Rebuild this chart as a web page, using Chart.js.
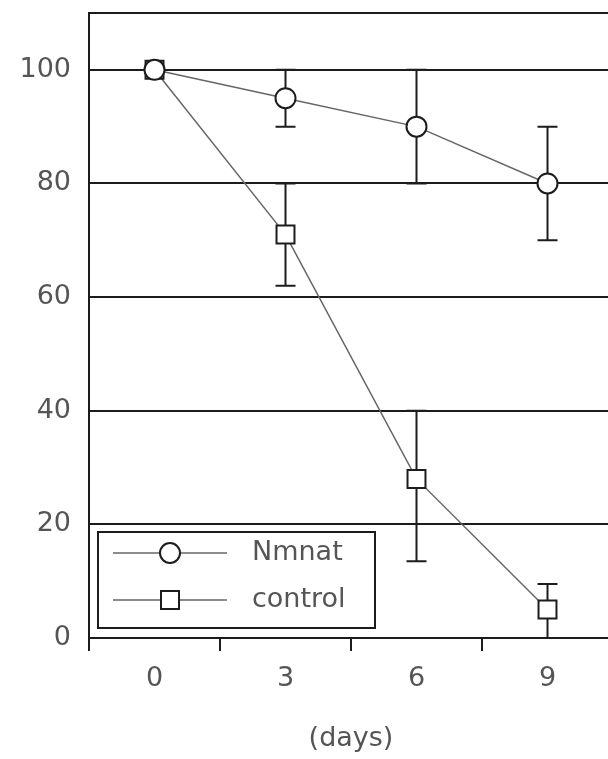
<!DOCTYPE html>
<html>
<head>
<meta charset="utf-8">
<script src="https://cdn.jsdelivr.net/npm/chart.js@4.4.1/dist/chart.umd.min.js"></script>
<style>
  html, body { margin: 0; padding: 0; background: #fff; overflow: hidden; }
  #chart1 { display: block; }
</style>
</head>
<body>
<canvas id="chart1" width="613" height="759"></canvas>
<script>
// survival over time, mean with upper/lower error limits
var days = ["0", "3", "6", "9"];
var nmnat = [100, 95, 90, 80];
var nmnatLow = [100, 90, 80, 70];
var nmnatHigh = [100, 100, 100, 90];
var control = [100, 71, 28, 5];
var controlLow = [100, 62, 13.5, 0];
var controlHigh = [100, 80, 40, 9.5];
var yTicks = [0, 20, 40, 60, 80, 100];

var ink = "#1c1c1c";
var textColor = "#555";
var font = { family: "DejaVu Sans", size: 27 };

// vertical error bars with caps, drawn under the markers
var errorBars = {
  id: "errorBars",
  beforeDatasetsDraw: function (chart) {
    var ctx = chart.ctx;
    var y = chart.scales.y;
    ctx.save();
    ctx.strokeStyle = ink;
    ctx.lineWidth = 2;
    chart.data.datasets.forEach(function (ds, i) {
      var meta = chart.getDatasetMeta(i);
      meta.data.forEach(function (pt, j) {
        var lo = y.getPixelForValue(ds.errLow[j]);
        var hi = y.getPixelForValue(ds.errHigh[j]);
        if (Math.abs(lo - hi) < 1) return;
        ctx.beginPath();
        ctx.moveTo(pt.x, hi);
        ctx.lineTo(pt.x, lo);
        ctx.moveTo(pt.x - 10, hi);
        ctx.lineTo(pt.x + 10, hi);
        ctx.moveTo(pt.x - 10, lo);
        ctx.lineTo(pt.x + 10, lo);
        ctx.stroke();
      });
    });
    ctx.restore();
  }
};

// top frame line and the boxed legend in the lower left corner
var frameLegend = {
  id: "frameLegend",
  afterDraw: function (chart) {
    var ctx = chart.ctx;
    var a = chart.chartArea;
    ctx.save();
    ctx.strokeStyle = ink;
    ctx.lineWidth = 2;
    ctx.beginPath();
    ctx.moveTo(a.left, a.top);
    ctx.lineTo(a.right, a.top);
    ctx.stroke();

    var x0 = a.left + 9, y0 = a.bottom - 106;
    ctx.fillStyle = "#fff";
    ctx.fillRect(x0, y0, 277, 96);
    ctx.strokeRect(x0, y0, 277, 96);

    chart.data.datasets.forEach(function (ds, i) {
      var cy = y0 + 21 + i * 47;
      var mx = x0 + 72;
      ctx.strokeStyle = ds.borderColor;
      ctx.lineWidth = ds.borderWidth;
      ctx.beginPath();
      ctx.moveTo(x0 + 15, cy);
      ctx.lineTo(x0 + 129, cy);
      ctx.stroke();
      ctx.fillStyle = "#fff";
      ctx.strokeStyle = ink;
      ctx.lineWidth = 2;
      ctx.beginPath();
      if (ds.pointStyle === "rect") {
        ctx.rect(mx - 9, cy - 9, 18, 18);
      } else {
        ctx.arc(mx, cy, 10, 0, Math.PI * 2);
      }
      ctx.fill();
      ctx.stroke();
      ctx.fillStyle = textColor;
      ctx.font = font.size + "px " + font.family;
      ctx.textBaseline = "middle";
      ctx.textAlign = "left";
      ctx.fillText(ds.label, x0 + 154, cy);
    });
    ctx.restore();
  }
};

var ctx = document.getElementById("chart1").getContext("2d");
var myChart = new Chart(ctx, {
  type: "line",
  data: {
    labels: days,
    datasets: [
      {
        label: "Nmnat",
        data: nmnat,
        errLow: nmnatLow,
        errHigh: nmnatHigh,
        borderColor: "#666",
        borderWidth: 1.5,
        pointStyle: "circle",
        pointRadius: 10,
        pointBackgroundColor: "#fff",
        pointBorderColor: ink,
        pointBorderWidth: 2,
        tension: 0,
      },
      {
        label: "control",
        data: control,
        errLow: controlLow,
        errHigh: controlHigh,
        borderColor: "#666",
        borderWidth: 1.5,
        pointStyle: "rect",
        pointRadius: 12.7,
        pointBackgroundColor: "#fff",
        pointBorderColor: ink,
        pointBorderWidth: 2,
        tension: 0,
      },
    ],
  },
  options: {
    responsive: false,
    animation: false,
    layout: { autoPadding: false, padding: { top: 13, right: 0, left: 0, bottom: 0 } },
    plugins: {
      legend: { display: false },
      tooltip: { enabled: false },
    },
    scales: {
      x: {
        offset: true,
        grid: {
          offset: true,
          drawOnChartArea: false,
          drawTicks: true,
          tickLength: 13,
          color: ink,
          lineWidth: 2,
        },
        border: { color: ink, width: 2 },
        ticks: { padding: 12, font: font, color: textColor },
        title: {
          display: true,
          text: "(days)",
          font: font,
          color: textColor,
          padding: { top: 20, bottom: 4 },
        },
        afterFit: function (s) {
          s.height = 121;
          s.paddingLeft = 0;
          s.paddingRight = 0;
        },
      },
      y: {
        min: 0,
        max: 110,
        afterBuildTicks: function (s) {
          s.ticks = yTicks.map(function (v) {
            return { value: v };
          });
        },
        grid: { color: ink, lineWidth: 2, drawTicks: false },
        border: { color: ink, width: 2 },
        ticks: { padding: 18, font: font, color: textColor },
        afterFit: function (s) {
          s.width = 89;
          s.paddingTop = 0;
          s.paddingBottom = 0;
        },
      },
    },
  },
  plugins: [errorBars, frameLegend],
});
</script>
</body>
</html>
